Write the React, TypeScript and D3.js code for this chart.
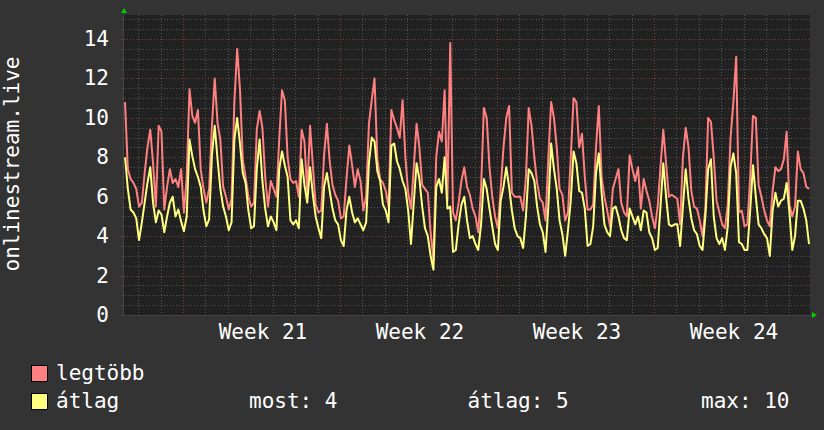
import { useEffect, useRef } from 'react';
import * as d3 from 'd3';

// samples every 3 hours, hour 0 = start of week 21
const START_HOUR = -62;
const STEP_HOURS = 3;
const VIEW_START = -63.1;
const VIEW_END = 671;

const maxValues = [
  10.8, 7.4, 6.9, 6.7, 6.4, 5.5, 5.7, 7.2, 8.5, 9.4, 7.7, 5.5, 9.6, 9.3, 5.35, 6.5, 7.4, 6.7, 6.9, 6.5,
  7.4, 5.2, 7.0, 11.45, 10.1, 9.75, 10.4, 7.4, 6.4, 5.7, 6.4, 9.6, 12.0, 9.75, 8.9, 6.5, 6.0, 5.35, 5.9, 10.8,
  13.5, 11.45, 7.9, 7.0, 6.0, 5.5, 5.7, 9.4, 10.35,
  9.5, 7.0, 5.5, 6.8, 6.4, 6.0, 8.9, 11.4, 10.9, 8.0, 6.9, 6.7, 6.8, 6.0, 9.4, 8.8, 6.2, 9.6, 7.6, 5.6,
  5.2, 5.3, 8.1, 9.7, 7.8, 6.6, 6.1, 5.8, 4.9, 5.0, 6.9, 8.6, 7.6, 6.5, 7.4, 6.8, 5.3, 6.0, 9.7, 10.9,
  12.0, 7.9, 6.9, 6.7, 6.3, 5.5, 10.4, 9.9, 9.5, 9.0,
  10.9, 8.0, 6.2, 5.4, 7.5, 9.7, 8.5, 6.6, 6.4, 6.2, 4.2, 2.8, 8.0, 9.3, 8.8, 11.4, 5.8, 13.8, 5.2, 4.8,
  5.7, 6.8, 7.5, 6.5, 6.1, 5.4, 5.0, 4.2, 6.4, 10.5, 10.0, 7.5, 6.0, 5.0, 4.4, 6.4, 8.5, 10.0, 10.6, 6.2,
  6.0, 6.0, 6.0, 5.3, 7.0, 10.5, 9.6, 8.0, 6.7,
  5.9, 5.7, 4.8, 8.0, 10.8, 10.0, 8.5, 6.4, 6.1, 4.8, 5.2, 8.0, 11.0, 10.8, 8.5, 9.2, 7.0, 5.35, 5.35, 5.6,
  8.5, 10.6, 7.0, 6.0, 5.3, 4.5, 6.4, 6.9, 7.4, 5.7, 5.2, 5.0, 8.1, 7.4, 6.8, 7.5, 5.4, 6.9, 6.3, 5.8,
  5.0, 4.4, 5.5, 7.5, 9.4, 7.7, 6.0, 6.1, 6.0,
  5.9, 4.6, 8.0, 9.5, 8.5, 6.3, 5.5, 5.4, 4.8, 4.0, 5.35, 10.0, 9.8, 8.0, 5.8, 5.2, 4.6, 4.4, 5.6, 9.0,
  10.8, 13.1, 5.2, 5.3, 4.5, 4.6, 7.0, 10.1, 10.0, 6.6, 6.0, 5.3, 4.8, 4.5, 6.3, 7.5, 7.3, 7.4, 7.9, 9.3,
  5.6, 5.0, 5.5, 8.3, 7.4, 7.2, 6.5, 6.4,
];

const avgValues = [
  8.0, 6.4, 5.35, 5.2, 4.9, 3.8, 4.7, 5.7, 6.7, 7.5, 5.7, 4.7, 5.3, 5.1, 4.2, 5.0, 5.7, 6.0, 5.0, 5.35,
  4.75, 4.25, 5.0, 8.9, 8.06, 7.4, 7.0, 6.5, 5.3, 4.5, 4.85, 8.1, 9.6, 7.9, 6.4, 5.5, 5.0, 4.3, 4.7, 8.9,
  10.0, 8.7, 7.2, 6.7, 5.3, 4.4, 4.5, 7.4, 8.9,
  6.8, 5.4, 4.5, 5.0, 4.7, 4.3, 7.4, 8.3, 7.6, 7.0, 4.8, 4.6, 4.8, 4.4, 7.9, 6.6, 5.7, 7.5, 6.1, 5.0,
  4.4, 3.9, 6.5, 7.2, 6.3, 5.4, 4.8, 4.6, 3.8, 3.5, 5.3, 6.0, 5.2, 4.7, 4.9, 4.6, 4.3, 4.7, 7.7, 9.0,
  8.8, 7.3, 6.8, 5.6, 5.3, 4.7, 8.6, 8.7, 7.8, 7.4,
  6.8, 6.4, 5.3, 3.6, 5.7, 7.7, 6.9, 5.5, 4.4, 4.0, 3.0, 2.3, 6.5, 6.9, 6.2, 8.0, 5.4, 5.5, 3.2, 3.3,
  4.6, 5.6, 6.0, 4.8, 3.9, 4.0, 3.6, 3.3, 4.6, 6.9, 6.4, 5.4, 4.5, 3.6, 3.3, 5.8, 6.5, 7.5, 6.5, 5.3,
  4.4, 4.0, 3.9, 3.4, 5.0, 7.4, 7.2, 6.8, 5.5,
  4.6, 4.2, 3.2, 5.5, 8.7, 7.4, 6.4, 4.8, 4.1, 3.0, 4.3, 5.8, 8.3, 7.7, 6.3, 6.2, 5.4, 3.5, 3.6, 4.5,
  7.2, 8.2, 6.2, 4.6, 4.2, 4.0, 5.4, 5.5, 5.0, 4.3, 3.9, 3.8, 5.4, 5.0, 4.6, 5.0, 4.3, 5.3, 5.2, 4.2,
  3.9, 3.3, 3.4, 5.5, 7.7, 6.0, 4.6, 4.5, 4.6,
  4.6, 3.5, 5.5, 7.4, 5.9, 4.9, 4.3, 4.1, 3.5, 3.3, 5.0, 7.4, 7.9, 5.0, 3.9, 3.6, 3.9, 3.3, 4.5, 7.5,
  8.2, 7.2, 3.7, 3.6, 3.3, 3.3, 5.3, 7.6, 6.0, 4.6, 4.4, 4.1, 3.9, 3.0, 5.3, 6.2, 5.5, 5.8, 5.9, 6.7,
  5.2, 3.3, 4.0, 5.8, 5.8, 5.4, 4.8, 3.6,
];

const weekLabels = ['Week 21', 'Week 22', 'Week 23', 'Week 24'];
const weekStarts = [0, 168, 336, 504];
const yMajorTicks = [0, 2, 4, 6, 8, 10, 12, 14];
const Y_MAX = 15.22;

const seriesNames = ['legtöbb', 'átlag'];
const seriesColors = ['#FF8080', '#FFFF80'];
const summaryLabels = ['most: 4', 'átlag: 5', 'max: 10'];

const App = () => {
  const svgRef = useRef<SVGSVGElement>(null);

  const width = 824;
  const height = 430;
  const left = 124, right = 810, top = 15, bottom = 315;
  const font = '"DejaVu Sans Mono", monospace';

  useEffect(() => {
    if (!svgRef.current) return;
    const svg = d3.select(svgRef.current);
    svg.selectAll('*').remove();

    const x = d3.scaleLinear().domain([VIEW_START, VIEW_END]).range([left, right]);
    const y = d3.scaleLinear().domain([0, Y_MAX]).range([bottom, top]);

    svg.append('rect').attr('width', width).attr('height', height).attr('fill', '#333333');
    svg.append('rect')
      .attr('x', left).attr('y', top)
      .attr('width', right - left).attr('height', bottom - top)
      .attr('fill', '#212121');

    // minor grid
    const minorY = d3.range(0.5, Y_MAX, 0.5).filter(v => v % 2 !== 0);
    const minorX = d3.range(-48, VIEW_END, 24).filter(h => h % 168 !== 0);
    const grid = svg.append('g').attr('shape-rendering', 'crispEdges');

    grid.selectAll('.minorY').data(minorY).enter().append('line')
      .attr('x1', left - 2).attr('x2', right)
      .attr('y1', d => Math.round(y(d)) + 0.5).attr('y2', d => Math.round(y(d)) + 0.5)
      .attr('stroke', '#555555').attr('stroke-dasharray', '1,2');

    grid.selectAll('.minorX').data(minorX).enter().append('line')
      .attr('x1', d => Math.round(x(d)) + 0.5).attr('x2', d => Math.round(x(d)) + 0.5)
      .attr('y1', top).attr('y2', bottom + 2)
      .attr('stroke', '#555555').attr('stroke-dasharray', '1,2');

    // major grid
    grid.selectAll('.majorY').data(yMajorTicks.filter(v => v > 0)).enter().append('line')
      .attr('x1', left - 3).attr('x2', right)
      .attr('y1', d => Math.round(y(d)) + 0.5).attr('y2', d => Math.round(y(d)) + 0.5)
      .attr('stroke', '#7f3c3c').attr('stroke-dasharray', '1,2');

    grid.selectAll('.majorX').data(weekStarts.filter(h => h > VIEW_START)).enter().append('line')
      .attr('x1', d => Math.round(x(d)) + 0.5).attr('x2', d => Math.round(x(d)) + 0.5)
      .attr('y1', top).attr('y2', bottom + 3)
      .attr('stroke', '#7f3c3c').attr('stroke-dasharray', '1,2');

    // axes
    grid.append('line')
      .attr('x1', left - 0.5).attr('x2', left - 0.5).attr('y1', top - 2).attr('y2', bottom + 1)
      .attr('stroke', '#454545');
    grid.append('line')
      .attr('x1', left - 3).attr('x2', right + 2).attr('y1', bottom + 0.5).attr('y2', bottom + 0.5)
      .attr('stroke', '#454545');

    // arrows
    svg.append('path')
      .attr('d', `M${left - 3},${top - 2} L${left + 3},${top - 2} L${left},${top - 7} Z`)
      .attr('fill', '#00cc00');
    svg.append('path')
      .attr('d', `M${right + 2},${bottom - 3} L${right + 2},${bottom + 3} L${right + 7},${bottom} Z`)
      .attr('fill', '#00cc00');

    // y tick labels
    svg.selectAll('.yLabel').data(yMajorTicks).enter().append('text')
      .attr('x', 109).attr('y', d => y(d) + 7)
      .attr('text-anchor', 'end')
      .attr('font-family', font).attr('font-size', 21).attr('fill', '#ffffff')
      .text(d => d);

    // week labels
    svg.selectAll('.xLabel').data(weekLabels).enter().append('text')
      .attr('x', (d, i) => x(weekStarts[i] + 84) + 1.5)
      .attr('y', 339)
      .attr('text-anchor', 'middle')
      .attr('font-family', font).attr('font-size', 21).attr('fill', '#ffffff')
      .text(d => d);

    // vertical title
    svg.append('text')
      .attr('transform', 'translate(18.5,164) rotate(-90)')
      .attr('text-anchor', 'middle')
      .attr('font-family', font).attr('font-size', 21).attr('fill', '#ffffff')
      .text('onlinestream.live');

    // series lines
    const clipId = 'plotClip';
    svg.append('clipPath').attr('id', clipId).append('rect')
      .attr('x', left).attr('y', top).attr('width', right - left).attr('height', bottom - top);

    const line = d3.line<number>()
      .x((d, i) => x(START_HOUR + i * STEP_HOURS))
      .y(d => y(d));

    [maxValues, avgValues].forEach((values, k) => {
      svg.append('path')
        .datum(values)
        .attr('clip-path', `url(#${clipId})`)
        .attr('d', line)
        .attr('fill', 'none')
        .attr('stroke', seriesColors[k])
        .attr('stroke-width', 2)
        .attr('stroke-linejoin', 'round');
    });

    // legend
    const legend = svg.append('g');
    seriesNames.forEach((name, k) => {
      const baseY = 380 + k * 28;
      legend.append('rect')
        .attr('x', 31.5).attr('y', baseY - 14.5)
        .attr('width', 16).attr('height', 16)
        .attr('fill', seriesColors[k]).attr('stroke', '#000000');
      legend.append('text')
        .attr('x', 56).attr('y', baseY)
        .attr('font-family', font).attr('font-size', 21).attr('fill', '#ffffff')
        .text(name);
    });

    const summaryX = [249, 467.5, 701];
    summaryLabels.forEach((label, k) => {
      legend.append('text')
        .attr('x', summaryX[k]).attr('y', 408)
        .attr('font-family', font).attr('font-size', 21).attr('fill', '#ffffff')
        .text(label);
    });
  }, []);

  return (
    <svg
      ref={svgRef}
      width={width}
      height={height}
      style={{ position: 'absolute', left: 0, top: 0, display: 'block' }}
    />
  );
};

export default App;
